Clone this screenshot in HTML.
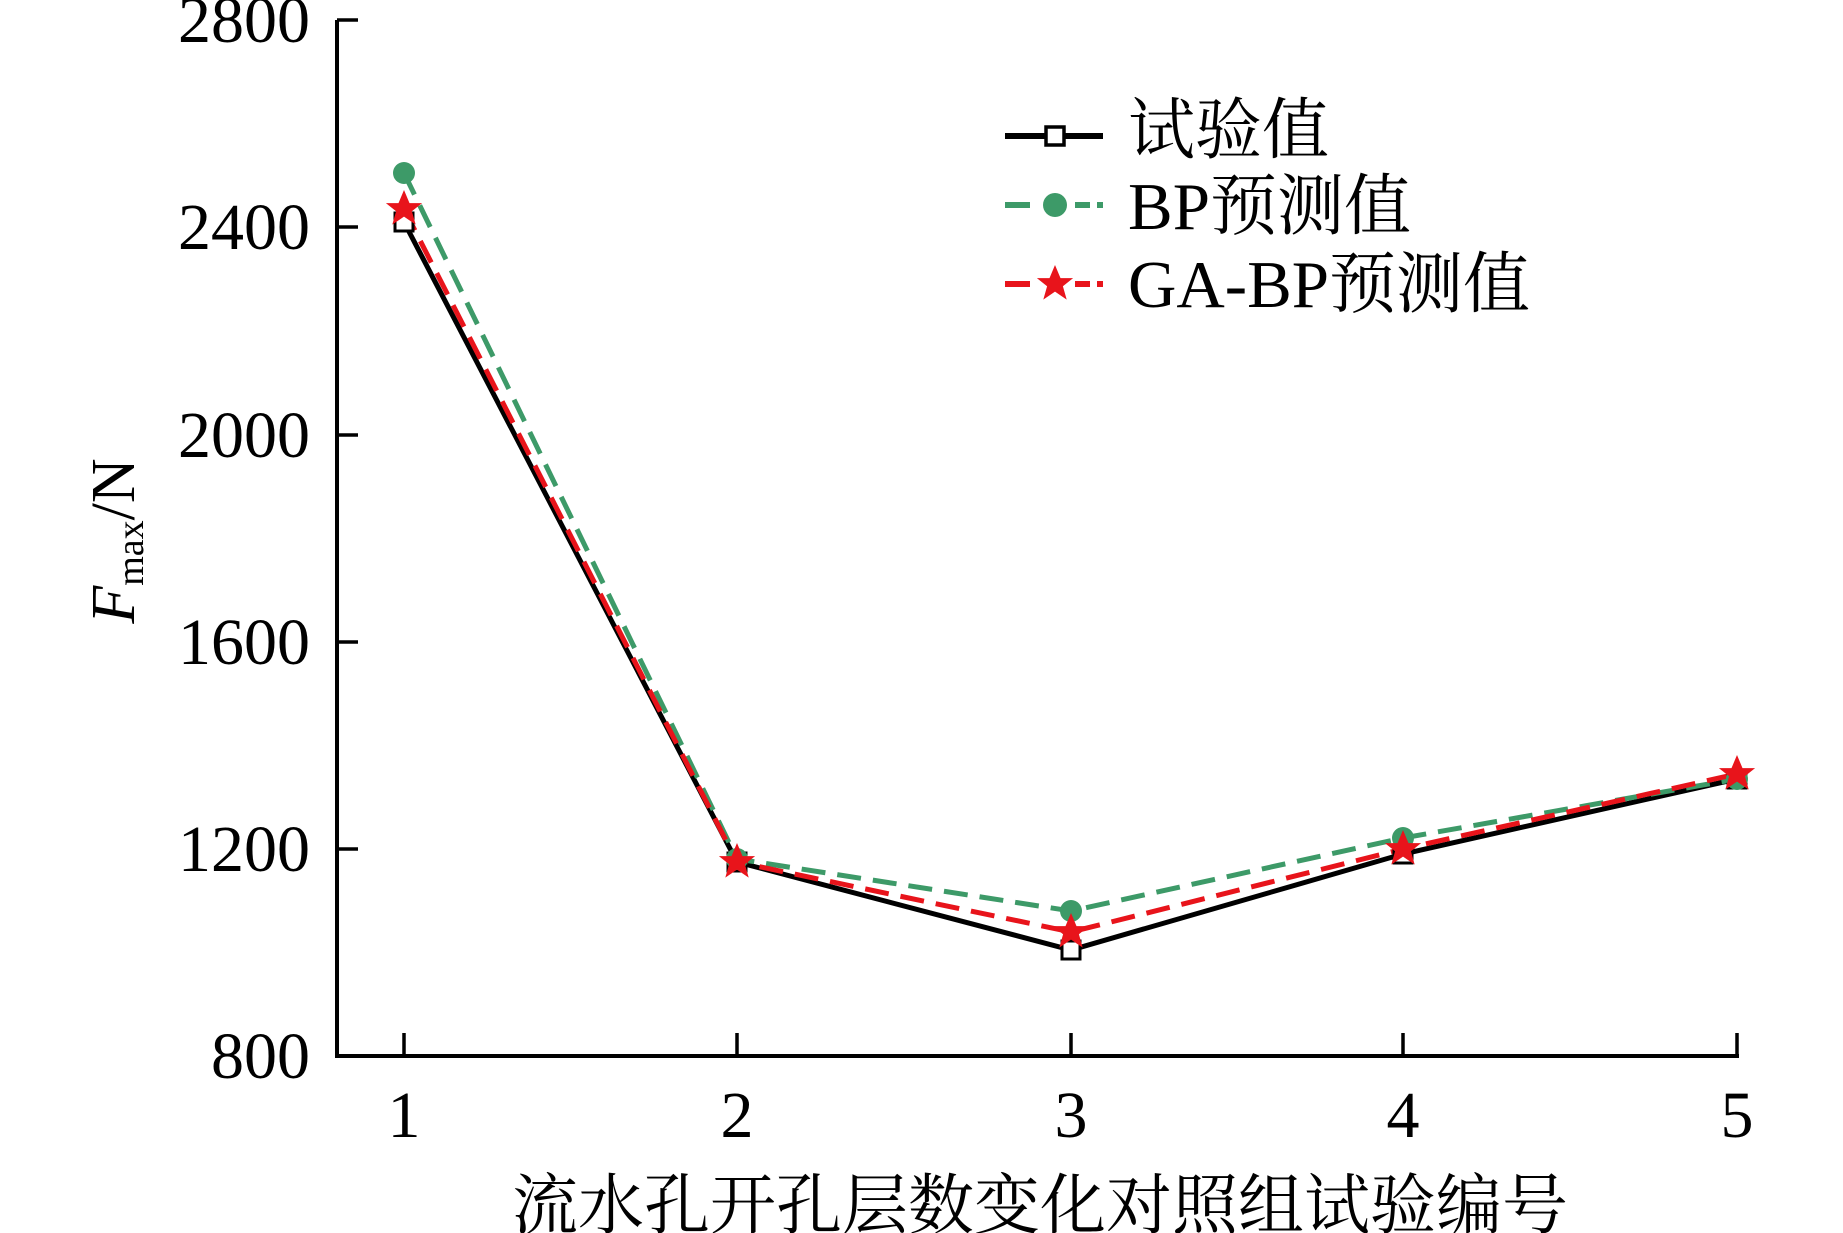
<!DOCTYPE html>
<html><head><meta charset="utf-8"><style>html,body{margin:0;padding:0;background:#fff;}svg{display:block;}</style></head>
<body>
<svg width="1843" height="1233" viewBox="0 0 1843 1233" xmlns="http://www.w3.org/2000/svg" font-family="'Liberation Serif','Noto Serif CJK SC',serif">
<rect width="1843" height="1233" fill="#fff"/>
<path d="M337,20 L337,1056 L1739,1056" fill="none" stroke="#000" stroke-width="4"/>
<g stroke="#000" stroke-width="3.5">
<line x1="337" y1="20" x2="358" y2="20"/>
<line x1="337" y1="227" x2="358" y2="227"/>
<line x1="337" y1="435" x2="358" y2="435"/>
<line x1="337" y1="642" x2="358" y2="642"/>
<line x1="337" y1="849" x2="358" y2="849"/>
<line x1="404" y1="1056" x2="404" y2="1033"/>
<line x1="737" y1="1056" x2="737" y2="1033"/>
<line x1="1071" y1="1056" x2="1071" y2="1033"/>
<line x1="1403" y1="1056" x2="1403" y2="1033"/>
<line x1="1737" y1="1056" x2="1737" y2="1033"/>
</g>
<g font-size="66" text-anchor="end" fill="#000">
<text x="310" y="42">2800</text>
<text x="310" y="249">2400</text>
<text x="310" y="457">2000</text>
<text x="310" y="664">1600</text>
<text x="310" y="871">1200</text>
<text x="310" y="1078">800</text>
</g>
<g font-size="66" text-anchor="middle" fill="#000">
<text x="404" y="1137">1</text>
<text x="737" y="1137">2</text>
<text x="1071" y="1137">3</text>
<text x="1403" y="1137">4</text>
<text x="1737" y="1137">5</text>
</g>
<text x="1040" y="1228" font-size="66" text-anchor="middle">流水孔开孔层数变化对照组试验编号</text>
<text transform="translate(134,541) rotate(-90)" font-size="62" text-anchor="middle"><tspan font-style="italic">F</tspan><tspan font-size="38" dy="9">max</tspan><tspan dy="-9">/N</tspan></text>
<polyline points="404,222 737,862 1071,950 1403,854 1737,779" fill="none" stroke="#000" stroke-width="5"/>
<polyline points="404,173 737,859 1071,911 1403,838 1737,779" fill="none" stroke="#3d9a68" stroke-width="5" stroke-dasharray="24,12"/>
<polyline points="404,209 737,862 1071,932 1403,849 1737,774" fill="none" stroke="#e8141b" stroke-width="5" stroke-dasharray="24,12"/>
<g fill="#fff" stroke="#000" stroke-width="3">
<rect x="395" y="213" width="18" height="18"/><rect x="728" y="853" width="18" height="18"/><rect x="1062" y="941" width="18" height="18"/><rect x="1394" y="845" width="18" height="18"/><rect x="1728" y="770" width="18" height="18"/>
</g>
<g fill="#3d9a68">
<circle cx="404" cy="173" r="11"/><circle cx="737" cy="859" r="11"/><circle cx="1071" cy="911" r="11"/><circle cx="1403" cy="838" r="11"/><circle cx="1737" cy="779" r="11"/>
</g>
<defs><polygon id="st" points="0,-19 5.5,-5.9 18.1,-5.9 7.9,2.2 11.7,15.6 0,7.6 -11.7,15.6 -7.9,2.2 -18.1,-5.9 -5.5,-5.9" fill="#e8141b"/></defs>
<use href="#st" x="404" y="209"/><use href="#st" x="737" y="862"/><use href="#st" x="1071" y="932"/><use href="#st" x="1403" y="849"/><use href="#st" x="1737" y="774"/>
<line x1="1005" y1="136" x2="1103" y2="136" stroke="#000" stroke-width="6"/>
<rect x="1046" y="127" width="18" height="18" fill="#fff" stroke="#000" stroke-width="3.5"/>
<text x="1128" y="153" font-size="67">试验值</text>
<path d="M1005,205 L1030,205 M1075,205 L1090,205 M1097,205 L1103,205" stroke="#3d9a68" stroke-width="6"/>
<circle cx="1055" cy="205" r="12" fill="#3d9a68"/>
<text x="1128" y="229" font-size="67">BP预测值</text>
<path d="M1005,284 L1030,284 M1075,284 L1090,284 M1097,284 L1103,284" stroke="#e8141b" stroke-width="6"/>
<use href="#st" x="1055" y="284"/>
<text x="1128" y="307" font-size="67">GA-BP预测值</text>
</svg>
</body></html>
